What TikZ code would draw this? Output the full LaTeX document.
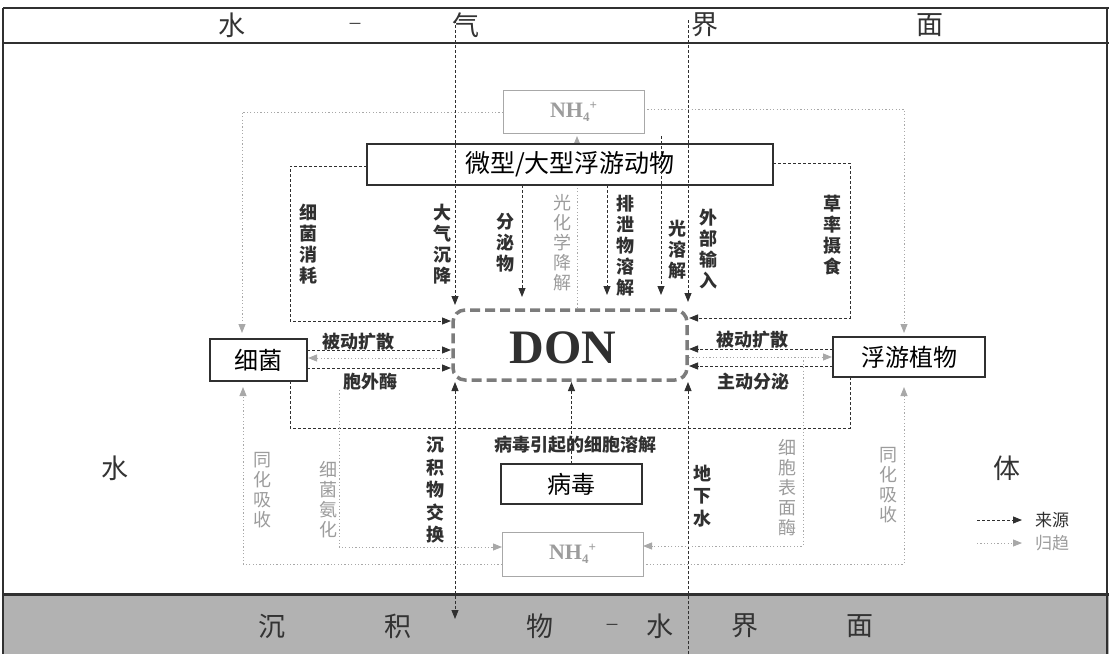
\documentclass[tikz,border=0pt]{standalone}
\usepackage{fontspec}
\setmainfont{Liberation Serif}
\newfontfamily\cjk{Noto Sans CJK SC}
\usetikzlibrary{arrows.meta,backgrounds}
\definecolor{dk}{HTML}{303030}
\definecolor{gr}{HTML}{A8A8A8}
\definecolor{grtxt}{HTML}{9C9C9C}
\definecolor{band}{HTML}{B2B2B2}
\definecolor{donc}{HTML}{7C7C7C}
\begin{document}
\begin{tikzpicture}[x=1pt,y=-1pt,
 tipk/.style={-{Triangle[length=9pt,width=7pt]}},
 srcl/.style={draw=dk, line width=0.9pt, dash pattern=on 3pt off 2pt},
 src/.style={srcl, tipk},
 fate/.style={draw=gr, line width=0.9pt, dash pattern=on 1.2pt off 2.2pt, tipk},
 box/.style={draw=dk, line width=1.1pt, fill=white, inner sep=0pt, outer sep=0pt, text=black, font=\cjk\fontsize{24}{24}\selectfont},
 nhbox/.style={draw=gr, line width=1pt, fill=white, inner sep=0pt, outer sep=0pt, text=grtxt, font=\bfseries\fontsize{22}{22}\selectfont},
 vlab/.style={align=center, inner sep=0pt, font=\cjk\bfseries\fontsize{18}{21}\selectfont, text=dk},
 vlabg/.style={align=center, inner sep=0pt, font=\cjk\fontsize{18}{20}\selectfont, text=grtxt},
 hlab/.style={inner sep=0pt, font=\cjk\bfseries\fontsize{18}{18}\selectfont, text=dk},
 bandtxt/.style={inner sep=0pt, font=\cjk\fontsize{27}{27}\selectfont, text=black!80},
 banddash/.style={inner sep=0pt, font=\cjk\fontsize{15}{15}\selectfont, text=black!80},
]
\useasboundingbox (0,0) rectangle (1109,654);
% frame and bands
\fill[band] (3,595) rectangle (1109,654);
\draw[dk, line width=1.3pt] (3,8) -- (1109,8);
\draw[dk, line width=2.6pt] (3,43) -- (1109,43);
\draw[dk, line width=3pt] (3,594) -- (1109,594);
\draw[dk, line width=1.3pt] (3,8) -- (3,654);
\draw[dk, line width=1.3pt] (1107,8) -- (1107,654);

\node[bandtxt] (t1) at (232,25) {水};
\node[banddash] (t2) at (355,26) {－};
\node[bandtxt] (t3) at (466,25) {气};
\node[bandtxt] (t4) at (705,25) {界};
\node[bandtxt] (t5) at (930,25) {面};
\node[bandtxt] (b1) at (272,626) {沉};
\node[bandtxt] (b2) at (398,626) {积};
\node[bandtxt] (b3) at (540,626) {物};
\node[banddash] (b4) at (612,627) {－};
\node[bandtxt] (b5) at (660,626) {水};
\node[bandtxt] (b6) at (745,626) {界};
\node[bandtxt] (b7) at (860,626) {面};
\node[bandtxt] (w1) at (115,468) {水};
\node[bandtxt] (w2) at (1007,468) {体};

% boxes
\node[nhbox, minimum width=141pt, minimum height=43pt] (nhT) at (573.5,111.5) {NH\raisebox{-4pt}{\fontsize{13}{13}\selectfont 4}\raisebox{8pt}{\fontsize{13}{13}\selectfont +}};
\node[box, minimum width=406pt, minimum height=41pt, font=\cjk\fontsize{25}{25}\selectfont] (zoo) at (570,164.5) {微型/大型浮游动物};
\node[draw=donc, line width=3.5pt, dash pattern=on 10pt off 5pt, rounded corners=12pt, minimum width=234pt, minimum height=70pt, inner sep=0pt, outer sep=2pt] (don) at (570,345) {};
\node[inner sep=0pt, text=dk, font=\bfseries\fontsize{48}{48}\selectfont] (dontxt) at (563,348) {DON};
\node[box, minimum width=97pt, minimum height=42pt] (bact) at (258.5,360) {细菌};
\node[box, minimum width=152pt, minimum height=40pt] (phyto) at (909,357) {浮游植物};
\node[box, minimum width=141pt, minimum height=40pt] (vir) at (571.5,484) {病毒};
\node[nhbox, minimum width=141pt, minimum height=44pt] (nhB) at (572.5,554) {NH\raisebox{-4pt}{\fontsize{13}{13}\selectfont 4}\raisebox{8pt}{\fontsize{13}{13}\selectfont +}};

% labels
\node[vlab] (l1) at (308,244) {细\\菌\\消\\耗};
\node[vlab] (l2) at (442,244) {大\\气\\沉\\降};
\node[vlab] (l3) at (505,243) {分\\泌\\物};
\node[vlabg] (l4) at (562,243) {光\\化\\学\\降\\解};
\node[vlab] (l5) at (625,246) {排\\泄\\物\\溶\\解};
\node[vlab] (l6) at (677,250) {光\\溶\\解};
\node[vlab] (l7) at (708,249) {外\\部\\输\\入};
\node[vlab] (l8) at (832,235) {草\\率\\摄\\食};
\node[vlabg] (l9) at (262,490) {同\\化\\吸\\收};
\node[vlabg] (l10) at (328,500) {细\\菌\\氨\\化};
\node[vlab, font=\cjk\bfseries\fontsize{18}{22.5}\selectfont] (l11) at (435,490) {沉\\积\\物\\交\\换};
\node[vlab, font=\cjk\bfseries\fontsize{18}{22.5}\selectfont] (l12) at (702,496) {地\\下\\水};
\node[vlabg] (l13) at (787,488) {细\\胞\\表\\面\\酶};
\node[vlabg] (l14) at (888,485) {同\\化\\吸\\收};
\node[hlab] (h1) at (358,342) {被动扩散};
\node[hlab] (h2) at (370,382) {胞外酶};
\node[hlab] (h3) at (752,340) {被动扩散};
\node[hlab] (h4) at (753,382) {主动分泌};
\node[hlab] (h5) at (575,445) {病毒引起的细胞溶解};

% source connectors
\coordinate (airL) at (455,20);
\coordinate (airR) at (688,20);
\coordinate (sun) at (661,136);
\coordinate (sed) at (455,619);
\coordinate (gw) at (688,654);
\draw[src, shorten >=3pt] (airL) -- (airL |- don.north);
\draw[src, shorten >=6pt] (airR) -- (airR |- don.north);
\draw[src, shorten >=11pt] (zoo.south -| 522,0) -- (522,0 |- don.north);
\draw[src, shorten >=13pt] (zoo.south -| 607,0) -- (607,0 |- don.north);
\draw[src, shorten >=13pt] (sun) -- (sun |- don.north);
\draw[src] (zoo.west |- 0,166) -- (290,166) -- (290,321) -- (don.west |- 0,321);
\draw[src] (zoo.east |- 0,163) -- (850,163) -- (850,318) -- (don.east |- 0,318);
\draw[src] (bact.east |- 0,350) -- (don.west |- 0,350);
\draw[src] (bact.east |- 0,368) -- (don.west |- 0,368);
\draw[src] (phyto.west |- 0,349) -- (don.east |- 0,349);
\draw[src] (phyto.west |- 0,366) -- (don.east |- 0,366);
\draw[srcl] (bact.south -| 290,0) -- (290,428) -- (850,428) -- (phyto.south -| 850,0);
\draw[src] (vir.north) -- (vir.north |- don.south);
\draw[srcl, {Triangle[length=9pt,width=7pt]}-{Triangle[length=9pt,width=7pt]}] (sed |- don.south) -- (sed);
\draw[src] (gw) -- (gw |- don.south);

% fate connectors
\begin{pgfonlayer}{background}
\draw[fate, shorten >=3pt] (577,0 |- don.north) -- (577,0 |- nhT.south);
\end{pgfonlayer}
\draw[fate, shorten >=6pt] (nhT.west |- 0,112) -- (242,112) -- (bact.north -| 242,0);
\draw[fate, shorten >=4pt] (nhT.east |- 0,109) -- (904,109) -- (phyto.north -| 904,0);
\draw[fate, shorten >=1pt] (don.west |- 0,358) -- (bact.east |- 0,358);
\draw[fate, shorten >=1pt] (don.east |- 0,357) -- (phyto.west |- 0,357);
\draw[fate] (339,390) -- (339,547) -- (nhB.west |- 0,547);
\draw[fate] (803,357) -- (803,546) -- (nhB.east |- 0,546);
\draw[fate, shorten >=6pt] (nhB.west |- 0,564) -- (243,564) -- (bact.south -| 243,0);
\draw[fate, shorten >=10pt] (nhB.east |- 0,564) -- (904,564) -- (phyto.south -| 904,0);

% legend
\coordinate (la1) at (977,520);
\coordinate (la2) at (1022,520);
\coordinate (lb1) at (977,543);
\coordinate (lb2) at (1022,543);
\draw[src] (la1) -- (la2);
\draw[fate] (lb1) -- (lb2);
\node[inner sep=0pt, font=\cjk\fontsize{17}{17}\selectfont, text=dk] (lt1) at (1052,520) {来源};
\node[inner sep=0pt, font=\cjk\fontsize{17}{17}\selectfont, text=grtxt] (lt2) at (1052,543) {归趋};
\end{tikzpicture}
\end{document}
